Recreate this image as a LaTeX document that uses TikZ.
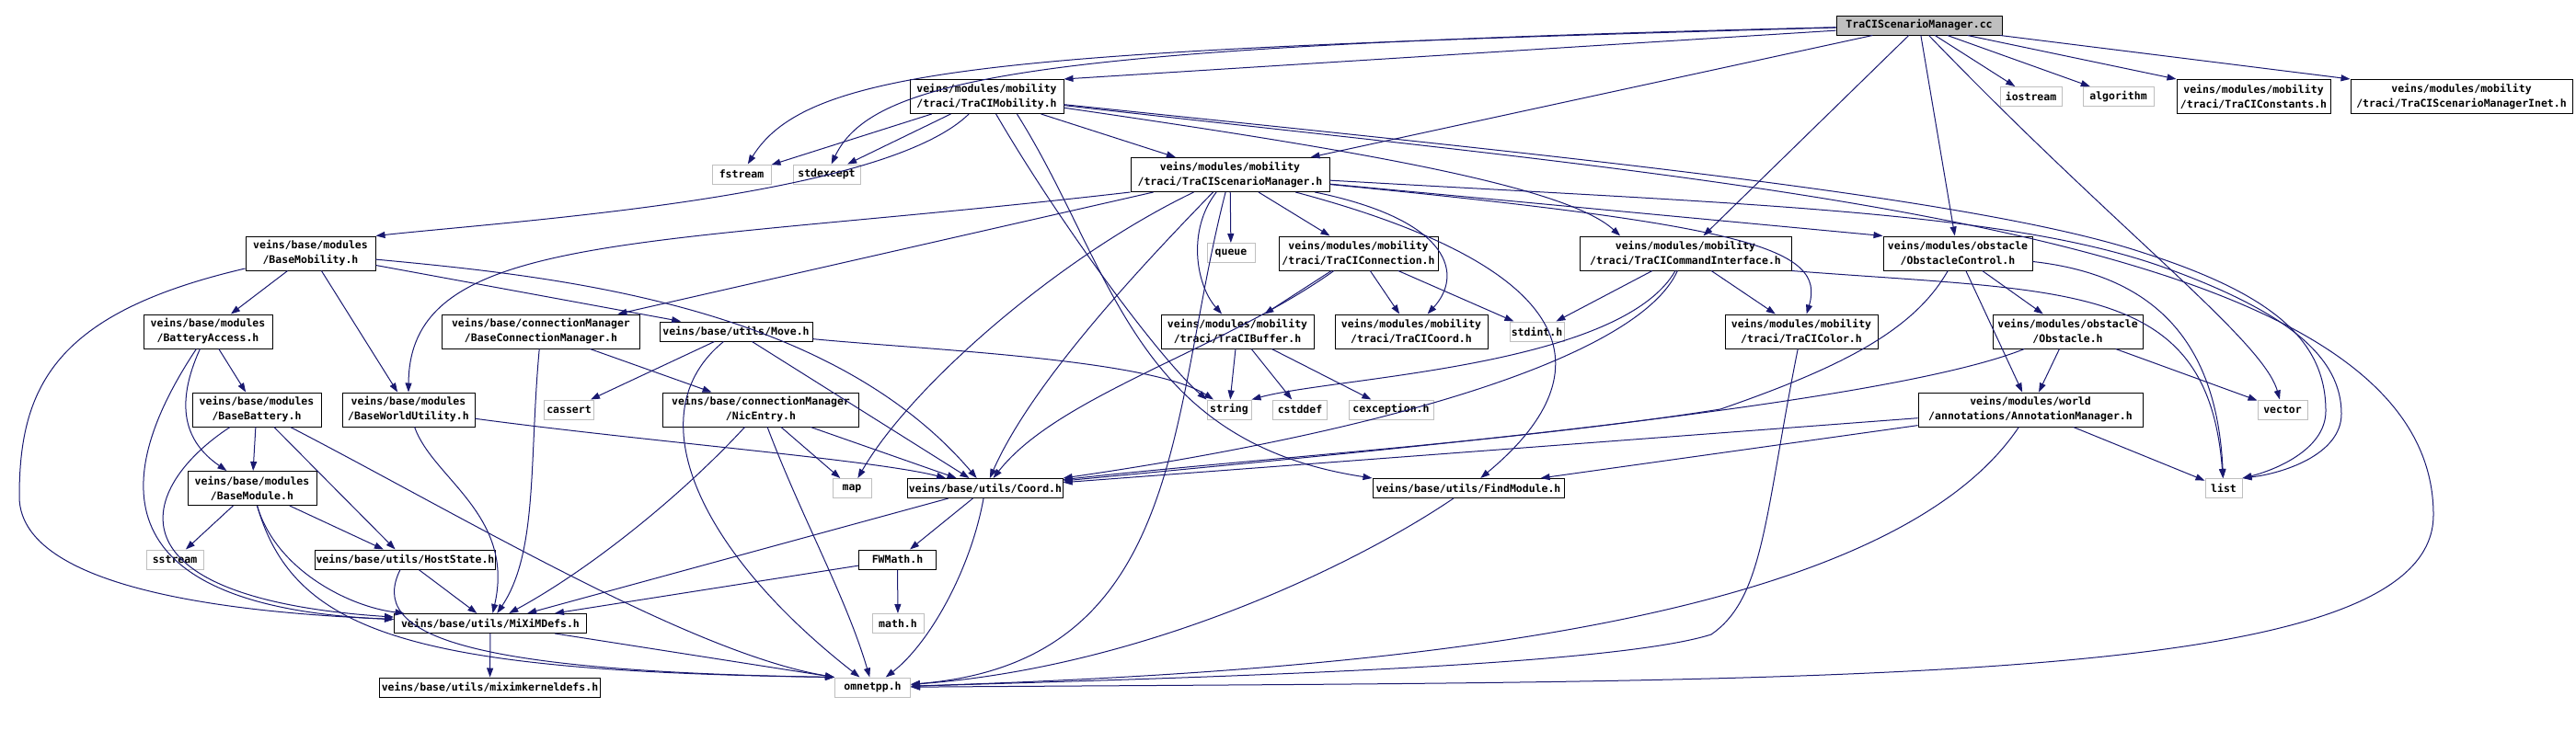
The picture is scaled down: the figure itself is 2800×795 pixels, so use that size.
\documentclass[tikz,border=0pt]{standalone}
\usepackage{fontspec}
\usepackage{xcolor}
\usepackage{tikz}
\usetikzlibrary{arrows.meta}
\newfontfamily\graphfont{DejaVu Sans Mono}
\definecolor{edgeblue}{HTML}{191970}
\definecolor{sysgray}{HTML}{BFBFBF}

\begin{document}
\begin{tikzpicture}[x=1pt, y=-1pt, >={Stealth[length=10pt,width=7pt,inset=0pt]},
    file/.style={rectangle, draw=black, fill=white, line width=1pt, inner sep=1pt,
                 minimum height=21pt, align=center,
                 font=\graphfont\bfseries\fontsize{11.5}{16}\selectfont},
    two/.style={file, minimum height=37pt},
    sys/.style={file, draw=sysgray},
    root/.style={file, fill=sysgray},
    arrow/.style={->, draw=edgeblue, line width=1pt}]
    \useasboundingbox (0,0) rectangle (2800,795);

    % top rows
    \node[root, minimum width=180pt] (r) at (2086,27.5) {TraCIScenarioManager.cc};
    \node[two, minimum width=167pt] (tmob) at (1072.5,105) {veins/modules/mobility\\/traci/TraCIMobility.h};
    \node[sys, minimum width=64pt] (fstream) at (806,189.5) {fstream};
    \node[sys, minimum width=73pt] (stdexcept) at (898.5,189.5) {stdexcept};
    \node[sys, minimum width=67pt] (iostream) at (2207.5,105) {iostream};
    \node[sys, minimum width=77pt] (algorithm) at (2302.5,105) {algorithm};
    \node[two, minimum width=167pt] (tconst) at (2449.5,105) {veins/modules/mobility\\/traci/TraCIConstants.h};
    \node[two, minimum width=241pt] (tinet) at (2675.5,105) {veins/modules/mobility\\/traci/TraCIScenarioManagerInet.h};
    \node[two, minimum width=216pt] (tsmh) at (1337,190) {veins/modules/mobility\\/traci/TraCIScenarioManager.h};
    \node[sys, minimum width=52pt] (queue) at (1338,275) {queue};
    \node[two, minimum width=141pt] (bmob) at (337.5,275.5) {veins/base/modules\\/BaseMobility.h};
    \node[two, minimum width=173pt] (tconn) at (1476.5,275.5) {veins/modules/mobility\\/traci/TraCIConnection.h};
    \node[two, minimum width=230pt] (tcmd) at (1832,275.5) {veins/modules/mobility\\/traci/TraCICommandInterface.h};
    \node[two, minimum width=162pt] (obsctl) at (2128,275.5) {veins/modules/obstacle\\/ObstacleControl.h};

    % middle rows
    \node[two, minimum width=140pt] (batacc) at (226,360.5) {veins/base/modules\\/BatteryAccess.h};
    \node[two, minimum width=215pt] (bcm) at (588,360.5) {veins/base/connectionManager\\/BaseConnectionManager.h};
    \node[file, minimum width=166pt] (move) at (800,360.5) {veins/base/utils/Move.h};
    \node[two, minimum width=166pt] (tbuf) at (1345,360.5) {veins/modules/mobility\\/traci/TraCIBuffer.h};
    \node[two, minimum width=166pt] (tcoord) at (1534,360.5) {veins/modules/mobility\\/traci/TraCICoord.h};
    \node[sys, minimum width=59pt] (stdint) at (1670.5,360.5) {stdint.h};
    \node[two, minimum width=166pt] (tcolor) at (1958,360.5) {veins/modules/mobility\\/traci/TraCIColor.h};
    \node[two, minimum width=163pt] (obst) at (2247.5,360.5) {veins/modules/obstacle\\/Obstacle.h};
    \node[two, minimum width=140pt] (batt) at (279,445.5) {veins/base/modules\\/BaseBattery.h};
    \node[two, minimum width=144pt] (bwu) at (444,445.5) {veins/base/modules\\/BaseWorldUtility.h};
    \node[sys, minimum width=54pt] (cassert) at (618.5,445.5) {cassert};
    \node[two, minimum width=213pt] (nic) at (827,445.5) {veins/base/connectionManager\\/NicEntry.h};
    \node[sys, minimum width=48pt] (string) at (1336,445.5) {string};
    \node[sys, minimum width=59pt] (cstddef) at (1413,445.5) {cstddef};
    \node[sys, minimum width=92pt] (cexc) at (1512,445.5) {cexception.h};
    \node[two, minimum width=244pt] (annot) at (2207,445.5) {veins/modules/world\\/annotations/AnnotationManager.h};
    \node[sys, minimum width=54pt] (vector) at (2481,445.5) {vector};
    \node[two, minimum width=140pt] (bmod) at (274,531) {veins/base/modules\\/BaseModule.h};
    \node[sys, minimum width=42pt] (map) at (926,531) {map};
    \node[file, minimum width=167pt] (coord) at (1071,531) {veins/base/utils/Coord.h};
    \node[file, minimum width=208pt] (findmod) at (1596,531) {veins/base/utils/FindModule.h};
    \node[sys, minimum width=40pt] (list) at (2417,531) {list};

    % bottom rows
    \node[sys, minimum width=62pt] (sstream) at (190,608.5) {sstream};
    \node[file, minimum width=190pt] (hoststate) at (440.5,608.5) {veins/base/utils/HostState.h};
    \node[file, minimum width=84pt] (fwmath) at (975.5,608.5) {FWMath.h};
    \node[file, minimum width=209pt] (mixim) at (533,678) {veins/base/utils/MiXiMDefs.h};
    \node[sys, minimum width=56pt] (math) at (976,678) {math.h};
    \node[file, minimum width=240pt] (kern) at (532.5,747.5) {veins/base/utils/miximkerneldefs.h};
    \node[sys, minimum width=82pt] (omnet) at (948.5,747.5) {omnetpp.h};

    % includes of the .cc file
    \draw[arrow] (r) .. controls (1100,55) and (880,70) .. (fstream);
    \draw[arrow] (r) .. controls (1150,50) and (950,80) .. (stdexcept);
    \draw[arrow] (r) -- (tmob.north east);
    \draw[arrow] (r) -- (tsmh);
    \draw[arrow] (r) -- (tcmd);
    \draw[arrow] (r) -- (obsctl);
    \draw[arrow] (r) .. controls (2300,250) and (2460,370) .. (vector);
    \draw[arrow] (r) -- (iostream);
    \draw[arrow] (r) -- (algorithm);
    \draw[arrow] (r) -- (tconst.north west);
    \draw[arrow] (r) -- (tinet.north west);

    % TraCIMobility.h
    \draw[arrow] (tmob) -- (fstream);
    \draw[arrow] (tmob) -- (stdexcept);
    \draw[arrow] (tmob) .. controls (960,215) and (560,240) .. (bmob.north east);
    \draw[arrow] (tmob.-62) .. controls (1150,240) and (1260,390) .. (string.north west);
    \draw[arrow] (tmob.-30) .. controls (1210,290) and (1230,480) .. (findmod.north west);
    \draw[arrow] (tmob) -- (tsmh);
    \draw[arrow] (tmob) .. controls (1450,160) and (1700,200) .. (tcmd.165);
    \draw[arrow] (tmob) .. controls (1700,170) and (2150,215) .. (2330,275)
        .. controls (2470,320) and (2528,370) .. (2528,447)
        .. controls (2528,490) and (2470,512) .. (list.north east);
    \draw[arrow] (tmob) .. controls (1900,200) and (2645,250) .. (2645,560)
        .. controls (2645,750) and (2000,740) .. (omnet);

    % TraCIScenarioManager.h
    \draw[arrow] (tsmh.south west) .. controls (700,270) and (445,250) .. (bwu.north);
    \draw[arrow] (tsmh) -- (bcm);
    \draw[arrow] (tsmh) .. controls (1150,280) and (990,420) .. (map);
    \draw[arrow] (tsmh) .. controls (1230,300) and (1120,420) .. (coord);
    \draw[arrow] (tsmh) -- (queue);
    \draw[arrow] (tsmh) .. controls (1290,250) and (1300,310) .. (tbuf);
    \draw[arrow] (tsmh) -- (tconn);
    \draw[arrow] (tsmh) .. controls (1580,240) and (1590,300) .. (tcoord);
    \draw[arrow] (tsmh) .. controls (1750,300) and (1730,420) .. (findmod);
    \draw[arrow] (tsmh) .. controls (1900,245) and (1985,270) .. (tcolor);
    \draw[arrow] (tsmh) -- (obsctl.north west);
    \draw[arrow] (tsmh) .. controls (1900,222) and (2180,230) .. (2350,290)
        .. controls (2490,340) and (2545,390) .. (2545,450)
        .. controls (2545,495) and (2480,515) .. (list.north east);
    \draw[arrow] (tsmh) .. controls (1270,450) and (1290,720) .. (omnet);

    % TraCICommandInterface.h, TraCIConnection.h, TraCIBuffer.h, TraCIColor.h
    \draw[arrow] (tcmd) -- (stdint);
    \draw[arrow] (tcmd) -- (tcolor);
    \draw[arrow] (tcmd) .. controls (1760,400) and (1450,410) .. (string.north east);
    \draw[arrow] (tcmd) .. controls (1780,390) and (1500,470) .. (coord.north east);
    \draw[arrow] (tcmd.south east) .. controls (2250,318) and (2400,305) .. (list);
    \draw[arrow] (tconn) -- (tbuf);
    \draw[arrow] (tconn) -- (tcoord);
    \draw[arrow] (tconn) -- (stdint);
    \draw[arrow] (tconn) .. controls (1330,380) and (1150,430) .. (coord);
    \draw[arrow] (tbuf) -- (string);
    \draw[arrow] (tbuf) -- (cstddef);
    \draw[arrow] (tbuf) -- (cexc);
    \draw[arrow] (tcolor) .. controls (1918,560) and (1918,650) .. (1860,690)
        .. controls (1750,725) and (1300,737) .. (omnet);

    % obstacle and world
    \draw[arrow] (obsctl) -- (obst);
    \draw[arrow] (obsctl) -- (annot);
    \draw[arrow] (obsctl) .. controls (2080,360) and (2000,400) .. (1870,445)
        .. controls (1650,480) and (1350,500) .. (coord);
    \draw[arrow] (obsctl) .. controls (2350,300) and (2410,380) .. (list);
    \draw[arrow] (obst) -- (annot);
    \draw[arrow] (obst) -- (vector);
    \draw[arrow] (obst) .. controls (2050,440) and (1500,490) .. (coord);
    \draw[arrow] (annot) -- (coord);
    \draw[arrow] (annot) -- (findmod);
    \draw[arrow] (annot) -- (list);
    \draw[arrow] (annot) .. controls (2050,680) and (1500,730) .. (omnet);
    \draw[arrow] (findmod) .. controls (1480,610) and (1250,725) .. (omnet);

    % base utils
    \draw[arrow] (coord) -- (fwmath);
    \draw[arrow] (coord) .. controls (1055,620) and (1010,700) .. (omnet);
    \draw[arrow] (coord) -- (mixim);
    \draw[arrow] (fwmath) -- (math);
    \draw[arrow] (fwmath) -- (mixim);
    \draw[arrow] (move) -- (cassert);
    \draw[arrow] (move) .. controls (1000,380) and (1250,390) .. (string);
    \draw[arrow] (move) -- (coord);
    \draw[arrow] (move) .. controls (690,450) and (760,600) .. (omnet);
    \draw[arrow] (nic) .. controls (740,540) and (640,620) .. (mixim);
    \draw[arrow] (nic) -- (map);
    \draw[arrow] (nic) -- (coord);
    \draw[arrow] (nic) .. controls (870,560) and (920,650) .. (omnet);
    \draw[arrow] (bcm) -- (nic);
    \draw[arrow] (bcm) .. controls (575,500) and (585,600) .. (mixim);

    % base modules
    \draw[arrow] (bmob) -- (batacc);
    \draw[arrow] (bmob) -- (bwu);
    \draw[arrow] (bmob) .. controls (60,340) and (21,420) .. (21,540)
        .. controls (21,650) and (300,668) .. (mixim);
    \draw[arrow] (bmob) -- (move);
    \draw[arrow] (bmob) .. controls (600,300) and (900,330) .. (coord);
    \draw[arrow] (bwu) .. controls (470,520) and (560,560) .. (mixim);
    \draw[arrow] (bwu) .. controls (700,480) and (950,500) .. (coord);
    \draw[arrow] (batacc) -- (batt);
    \draw[arrow] (batacc) .. controls (190,440) and (200,480) .. (bmod);
    \draw[arrow] (batacc) .. controls (120,520) and (110,660) .. (mixim);
    \draw[arrow] (batt) -- (bmod);
    \draw[arrow] (batt) -- (hoststate);
    \draw[arrow] (batt) .. controls (150,530) and (110,650) .. (mixim);
    \draw[arrow] (batt) .. controls (500,560) and (750,710) .. (omnet.north west);
    \draw[arrow] (bmod) -- (sstream);
    \draw[arrow] (bmod) -- (hoststate);
    \draw[arrow] (bmod) .. controls (300,620) and (380,660) .. (mixim);
    \draw[arrow] (bmod) .. controls (320,690) and (450,730) .. (omnet.north west);
    \draw[arrow] (hoststate) -- (mixim);
    \draw[arrow] (hoststate) .. controls (400,690) and (500,730) .. (omnet.north west);
    \draw[arrow] (mixim) -- (kern);
    \draw[arrow] (mixim) -- (omnet.north west);
\end{tikzpicture}
\end{document}
